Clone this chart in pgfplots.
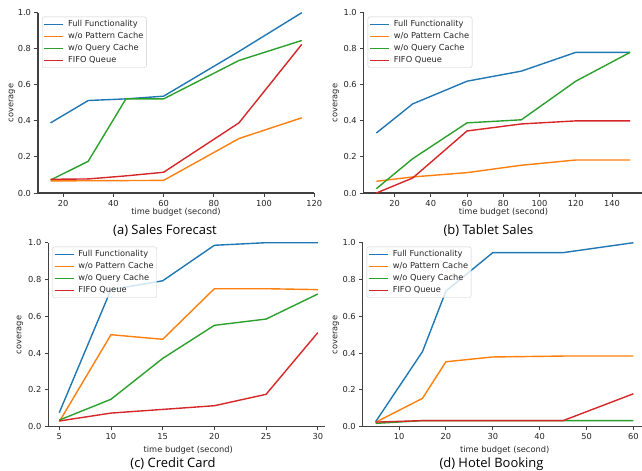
\documentclass[border=0pt]{standalone}
\usepackage{fontspec}
\setmainfont{DejaVu Sans}
\newfontfamily\capfont{Open Sans}
\usepackage{pgfplots}
\pgfplotsset{compat=1.18}
\definecolor{cA}{HTML}{1F77B4}
\definecolor{cB}{HTML}{FF7F0E}
\definecolor{cC}{HTML}{2CA02C}
\definecolor{cD}{HTML}{D62728}
\newcommand{\sz}{\fontsize{8.3}{9.5}\selectfont}
\pgfplotsset{
  panel/.style={
    scale only axis,
    axis x line*=bottom, axis y line*=left,
    ymin=0, ymax=1, ytick={0,0.2,0.4,0.6,0.8,1.0},
    yticklabel={\pgfmathprintnumber[fixed,fixed zerofill,precision=1]{\tick}},
    /pgf/number format/assume math mode=true,
    tick align=outside, major tick length=3.5bp,
    every tick/.style={black!75, line width=0.9bp},
    axis line style={black!75, line width=1.1bp},
    tick label style={font=\sz, text=black!85},
    every axis plot/.append style={line width=1.4bp},
    legend cell align=left,
    legend image code/.code={\path (0bp,0bp) -- (19bp,0bp); \draw[##1, line width=1.4bp] (5bp,0bp) -- (19bp,0bp);},
    legend style={at={(0,1)}, anchor=north west, xshift=4bp, yshift=-4bp,
      draw=black!20, rounded corners=2bp, fill=white, fill opacity=0.8, text opacity=1,
      font=\sz, text=black!85, inner xsep=1.5bp, inner ysep=1.3bp, column sep=2.5bp,
      nodes={inner sep=1.5bp, text height=6.5bp, text depth=2.5bp}},
  }
}
\begin{document}
\begin{tikzpicture}
\path[use as bounding box] (0bp,0bp) rectangle (642bp,-471bp);
\clip (0bp,0bp) rectangle (642bp,-471bp);
% (a)
\begin{axis}[panel, at={(38bp,-193bp)}, anchor=south west, width=276.3bp, height=180.3bp,
  xmin=10, xmax=120, xtick={20,40,60,80,100,120}]
\addplot[cA] coordinates {(15,0.389) (30,0.513) (45,0.522) (60,0.537) (90,0.785) (115,1.0)};
\addplot[cB] coordinates {(15,0.067) (30,0.068) (45,0.069) (60,0.070) (90,0.302) (115,0.417)};
\addplot[cC] coordinates {(15,0.072) (30,0.176) (45,0.522) (60,0.522) (90,0.735) (115,0.846)};
\addplot[cD] coordinates {(15,0.076) (30,0.078) (45,0.095) (60,0.115) (90,0.389) (115,0.824)};
\legend{Full Functionality, w/o Pattern Cache, w/o Query Cache, FIFO Queue}
\end{axis}
% (b)
\begin{axis}[panel, at={(363.7bp,-193bp)}, anchor=south west, width=279.1bp, height=180.3bp,
  xmin=3, xmax=157, xtick={20,40,60,80,100,120,140}]
\addplot[cA] coordinates {(10,0.333) (30,0.494) (60,0.620) (90,0.676) (120,0.780) (150,0.780)};
\addplot[cB] coordinates {(10,0.065) (30,0.089) (60,0.113) (90,0.154) (120,0.183) (150,0.183)};
\addplot[cC] coordinates {(10,0.024) (30,0.190) (60,0.389) (90,0.406) (120,0.620) (150,0.780)};
\addplot[cD] coordinates {(10,0.0) (30,0.083) (60,0.344) (90,0.383) (120,0.400) (150,0.400)};
\legend{Full Functionality, w/o Pattern Cache, w/o Query Cache, FIFO Queue}
\end{axis}
% (c)
\begin{axis}[panel, at={(48.3bp,-426.7bp)}, anchor=south west, width=276.7bp, height=184bp,
  xmin=3.94, xmax=30.7, xtick={5,10,15,20,25,30}]
\addplot[cA] coordinates {(5,0.076) (10,0.745) (15,0.793) (20,0.986) (25,1.0) (30,1.0)};
\addplot[cB] coordinates {(5,0.027) (10,0.500) (15,0.475) (20,0.750) (25,0.750) (30,0.745)};
\addplot[cC] coordinates {(5,0.036) (10,0.149) (15,0.371) (20,0.551) (25,0.585) (30,0.721)};
\addplot[cD] coordinates {(5,0.031) (10,0.074) (15,0.094) (20,0.114) (25,0.176) (30,0.511)};
\legend{Full Functionality, w/o Pattern Cache, w/o Query Cache, FIFO Queue}
\end{axis}
% (d)
\begin{axis}[panel, at={(362.7bp,-426.7bp)}, anchor=south west, width=283.6bp, height=184bp,
  xmin=2.25, xmax=62.75, xtick={10,20,30,40,50,60}]
\addplot[cA] coordinates {(5,0.027) (15,0.408) (20,0.737) (30,0.946) (45,0.946) (60,1.0)};
\addplot[cB] coordinates {(5,0.024) (15,0.154) (20,0.353) (30,0.379) (45,0.384) (60,0.384)};
\addplot[cC] coordinates {(5,0.018) (15,0.033) (20,0.033) (30,0.033) (45,0.033) (60,0.033)};
\addplot[cD] coordinates {(5,0.025) (15,0.033) (20,0.033) (30,0.033) (45,0.033) (60,0.179)};
\legend{Full Functionality, w/o Pattern Cache, w/o Query Cache, FIFO Queue}
\end{axis}
% labels
\begin{scope}[every node/.style={font=\sz, text=black!85, inner sep=0pt}]
\node[rotate=90] at (12bp,-103bp) {coverage};
\node[rotate=90] at (336bp,-103bp) {coverage};
\node[rotate=90] at (20bp,-335bp) {coverage};
\node[rotate=90] at (336bp,-335bp) {coverage};
\node at (176bp,-212bp) {time budget (second)};
\node at (503.5bp,-212bp) {time budget (second)};
\node at (188.3bp,-450bp) {time budget (second)};
\node at (504.7bp,-450bp) {time budget (second)};
\end{scope}
\begin{scope}[every node/.style={font=\capfont\fontsize{13}{15}\selectfont, text=black, inner sep=0pt, anchor=base}]
\node at (165bp,-234bp) {(a) Sales Forecast};
\node at (488.5bp,-234bp) {(b) Tablet Sales};
\node at (173bp,-467bp) {(c) Credit Card};
\node at (491.5bp,-467bp) {(d) Hotel Booking};
\end{scope}
\end{tikzpicture}
\end{document}
